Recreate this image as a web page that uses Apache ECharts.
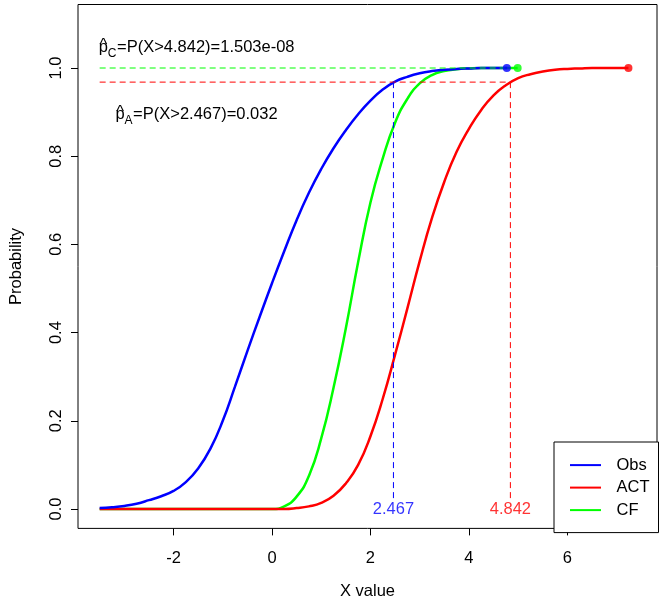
<!DOCTYPE html>
<html><head><meta charset="utf-8">
<script src="https://cdn.jsdelivr.net/npm/echarts@6/dist/echarts.min.js"></script>
<style>html,body{margin:0;padding:0;background:#fff}#c{width:659px;height:604px}</style>
</head><body><div id="c"></div>
<script>
// ---- data ----
const obsX = [-3.5, -3.25, -3.0, -2.75, -2.5, -2.25, -2.0, -1.75, -1.5, -1.25, -1.0, -0.75, -0.5, -0.25, 0.0, 0.25, 0.5, 0.75, 1.0, 1.25, 1.5, 1.75, 2.0, 2.25, 2.5, 2.75, 3.0, 3.25, 3.5, 3.75, 4.0, 4.25, 4.5, 4.77];
const obsY = [0.002, 0.004, 0.007, 0.012, 0.02, 0.029, 0.041, 0.061, 0.092, 0.137, 0.2, 0.278, 0.358, 0.436, 0.512, 0.585, 0.655, 0.717, 0.771, 0.818, 0.859, 0.895, 0.926, 0.951, 0.969, 0.98, 0.988, 0.993, 0.996, 0.998, 0.999, 1.0, 1.0, 1.0];
const actX = [-3.5, -3.0, -2.5, -2.0, -1.5, -1.0, -0.5, -0.25, 0.0, 0.25, 0.5, 0.75, 1.0, 1.25, 1.5, 1.75, 2.0, 2.25, 2.5, 2.75, 3.0, 3.25, 3.5, 3.75, 4.0, 4.25, 4.5, 4.75, 5.0, 5.25, 5.5, 5.75, 6.0, 6.25, 6.5, 6.75, 7.0, 7.24];
const actY = [0.0, 0.0, 0.0, 0.0, 0.0, 0.0, 0.0, 0.0, 0.0, 0.0, 0.002, 0.006, 0.014, 0.03, 0.058, 0.1, 0.165, 0.25, 0.35, 0.455, 0.562, 0.66, 0.742, 0.81, 0.862, 0.905, 0.938, 0.961, 0.977, 0.986, 0.992, 0.996, 0.998, 0.999, 1.0, 1.0, 1.0, 1.0];
const cfX = [-3.5, -3.0, -2.5, -2.0, -1.5, -1.0, -0.5, -0.25, 0.0, 0.25, 0.5, 0.75, 1.0, 1.25, 1.5, 1.75, 2.0, 2.25, 2.5, 2.75, 3.0, 3.25, 3.5, 3.75, 4.0, 4.25, 4.5, 4.75, 4.99];
const cfY = [0.0, 0.0, 0.0, 0.0, 0.0, 0.0, 0.0, 0.0, 0.0, 0.006, 0.028, 0.075, 0.16, 0.275, 0.41, 0.56, 0.695, 0.795, 0.876, 0.93, 0.965, 0.984, 0.993, 0.997, 0.999, 1.0, 1.0, 1.0, 1.0];

const xTicks = [-2, 0, 2, 4, 6];
const yTicks = [0, 0.2, 0.4, 0.6, 0.8, 1.0];
const legendNames = ['Obs', 'ACT', 'CF'];

const qObs = 2.467;        // observed quantile
const qAct = 4.842;        // ACT quantile
const pA = 0.032;
const pC = 1.503e-08;
const pAText = '0.032';
const pCText = '1.503e-08';
const refStartX = -3.5;
const refBottomY = 0.02;
const ann1 = [-3.52, 1.036];
const ann2 = [-3.18, 0.884];

// ---- styling ----
const BLUE = '#0000FF', RED = '#FF0000', GREEN = '#00FF00';
const FF = '"Liberation Sans", Arial, Helvetica, sans-serif';
const FS = 16.5, SUBFS = 12;

const pair = (xs, ys) => xs.map((x, i) => [x, ys[i]]);
const last = (xs, ys) => [xs[xs.length - 1], ys[ys.length - 1]];

const chart = echarts.init(document.getElementById('c'), null, {renderer: 'canvas', width: 659, height: 604});

function curve(name, xs, ys, color, z) {
  return {name, type: 'line', data: pair(xs, ys), symbol: 'none', smooth: 0.5,
    lineStyle: {color, width: 2.5}, itemStyle: {color}, z, silent: true};
}
function dashed(data, color) {
  return {type: 'line', data, symbol: 'none', lineStyle: {color, width: 1, type: [6, 4]}, z: 5, silent: true};
}

chart.setOption({
  animation: false,
  backgroundColor: '#fff',
  grid: {left: 78, right: 2, top: 4.5, bottom: 75.6, show: true, borderColor: '#000', borderWidth: 1, outerBoundsMode: 'none', containLabel: false},
  xAxis: {type: 'value', min: -3.94, max: 7.82,
    name: 'X value', nameLocation: 'middle', nameGap: 55,
    nameTextStyle: {fontSize: FS, fontFamily: FF, color: '#000'},
    axisLine: {show: false, onZero: false},
    splitLine: {show: false},
    axisTick: {show: true, customValues: xTicks, length: 7, lineStyle: {color: '#000'}},
    axisLabel: {customValues: xTicks, formatter: v => String(v), fontSize: FS, fontFamily: FF, color: '#000', margin: 22}
  },
  yAxis: {type: 'value', min: -0.044, max: 1.144,
    name: 'Probability', nameLocation: 'middle', nameGap: 53, nameRotate: 90,
    nameTextStyle: {fontSize: FS, fontFamily: FF, color: '#000'},
    axisLine: {show: false, onZero: false},
    splitLine: {show: false},
    axisTick: {show: true, customValues: yTicks, length: 7, lineStyle: {color: '#000'}},
    axisLabel: {customValues: yTicks, formatter: v => v.toFixed(1), rotate: 90, fontSize: FS, fontFamily: FF, color: '#000', margin: 13}
  },
  legend: {
    data: legendNames, orient: 'vertical', left: 554, top: 442,
    padding: [14.6, 9, 14, 15], itemWidth: 31, itemHeight: 14, itemGap: 5.5,
    borderColor: '#000', borderWidth: 1, backgroundColor: '#fff', borderRadius: 0,
    itemStyle: {opacity: 0},
    textStyle: {fontSize: FS, fontFamily: FF, color: '#000', padding: [0, 0, 0, 10.5]},
    selectedMode: false
  },
  series: [
    curve('CF', cfX, cfY, GREEN, 2),
    curve('ACT', actX, actY, RED, 3),
    curve('Obs', obsX, obsY, BLUE, 4),
    dashed([[refStartX, 1 - pC], [qAct, 1 - pC]], GREEN),
    dashed([[refStartX, 1 - pA], [qAct, 1 - pA]], RED),
    dashed([[qObs, 1 - pA], [qObs, refBottomY]], BLUE),
    dashed([[qAct, 1 - pA], [qAct, refBottomY]], RED),
    {type: 'scatter', z: 6, symbolSize: 8, silent: true,
      data: [
        {value: last(obsX, obsY), itemStyle: {color: BLUE}},
        {value: last(cfX, cfY), itemStyle: {color: GREEN}},
        {value: last(actX, actY), itemStyle: {color: RED}}
      ]},
    {type: 'scatter', z: 7, symbolSize: 1, silent: true, itemStyle: {color: 'rgba(0,0,0,0)'},
      label: {show: true, position: 'inside', fontSize: FS, fontFamily: FF, formatter: p => p.value[0].toFixed(3)},
      labelLayout: {hideOverlap: false},
      data: [
        {value: [qObs, 0], label: {color: BLUE}},
        {value: [qAct, 0], label: {color: RED}}
      ]}
  ]
});

// ---- math annotations (p-hat with subscript) ----
const cv = document.createElement('canvas').getContext('2d');
function metrics(txt, size) {
  cv.font = size + 'px ' + FF;
  cv.textBaseline = 'alphabetic';
  const a = cv.measureText(txt);
  cv.textBaseline = 'middle';
  const m = cv.measureText(txt);
  return {w: a.width, asc: a.actualBoundingBoxAscent, midOff: a.actualBoundingBoxAscent - m.actualBoundingBoxAscent};
}
function txt(text, x, baseY, size, fill) {
  const mm = metrics(text, size);
  return {type: 'text', x: x, y: baseY - mm.midOff, silent: true, z: 10,
    style: {text, font: size + 'px ' + FF, fill: fill || '#000', textAlign: 'left', textVerticalAlign: 'middle', align: 'left', verticalAlign: 'middle'}};
}
function mathLabel(anchor, sub, rest) {
  const p = chart.convertToPixel({gridIndex: 0}, anchor);
  const L = p[0], B = p[1];
  const els = [];
  const pm = metrics('p', FS);
  els.push(txt('p', L, B, FS));
  const hm = metrics('^', FS);
  const hatTop = B - 14;
  const hatBase = hatTop + hm.asc;
  els.push(txt('^', L + pm.w * 0.5 - hm.w / 2, hatBase, FS));
  const sm = metrics(sub, SUBFS);
  els.push(txt(sub, L + pm.w, B + 4.4, SUBFS));
  els.push(txt(rest, L + pm.w + sm.w + 0.5, B, FS));
  return els;
}
chart.setOption({
  graphic: [].concat(
    mathLabel(ann1, 'C', '=P(X>' + qAct.toFixed(3) + ')=' + pCText),
    mathLabel(ann2, 'A', '=P(X>' + qObs.toFixed(3) + ')=' + pAText)
  )
});
</script>
</body></html>
